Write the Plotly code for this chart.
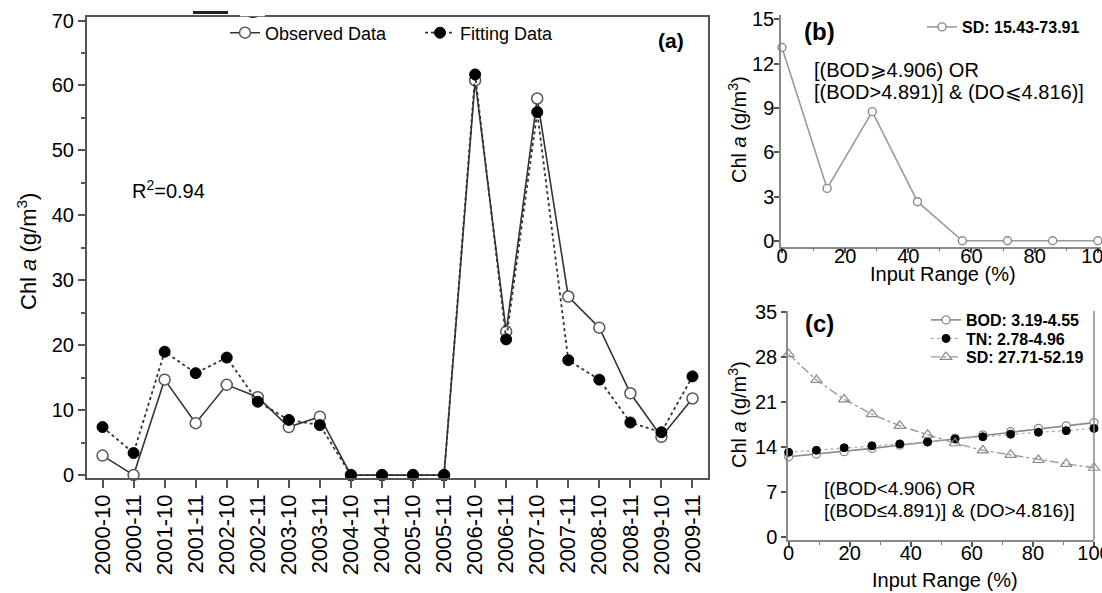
import plotly.graph_objects as go

# ---------------- data ----------------
periods = ["2000-10", "2000-11", "2001-10", "2001-11", "2002-10", "2002-11",
           "2003-10", "2003-11", "2004-10", "2004-11", "2005-10", "2005-11",
           "2006-10", "2006-11", "2007-10", "2007-11", "2008-10", "2008-11",
           "2009-10", "2009-11"]
observed = [3.0, 0.0, 14.7, 8.0, 13.9, 12.0, 7.4, 9.0, 0.0, 0.0, 0.0, 0.0,
            60.8, 22.1, 58.0, 27.5, 22.7, 12.6, 5.9, 11.8]
fitted = [7.4, 3.4, 19.0, 15.7, 18.1, 11.3, 8.5, 7.7, 0.0, 0.0, 0.0, 0.0,
          61.7, 20.9, 55.9, 17.7, 14.7, 8.1, 6.6, 15.2]

range_b = [0, 14.3, 28.6, 42.9, 57.1, 71.4, 85.7, 100]
sd_b = [13.1, 3.55, 8.75, 2.65, 0.0, 0.0, 0.0, 0.0]

range_c = [0, 9.1, 18.2, 27.3, 36.4, 45.5, 54.5, 63.6, 72.7, 81.8, 90.9, 100]
bod_c = [12.5, 12.9, 13.3, 13.8, 14.3, 14.8, 15.4, 15.9, 16.4, 16.9, 17.3, 17.8]
tn_c = [13.2, 13.5, 13.9, 14.2, 14.5, 14.8, 15.25, 15.6, 16.0, 16.3, 16.55, 16.9]
sd_c = [28.4, 24.4, 21.4, 19.1, 17.3, 15.9, 14.6, 13.5, 12.8, 12.0, 11.4, 10.8]

yticks_a = [0, 10, 20, 30, 40, 50, 60, 70]
yticks_b = [0, 3, 6, 9, 12, 15]
yticks_c = [0, 7, 14, 21, 28, 35]
xticks_bc = [0, 20, 40, 60, 80, 100]

# ---------------- layout helpers ----------------
W, H = 1102, 593
FONT = "Liberation Sans, Arial, sans-serif"


def px(x):
    return x / W


def py(y):
    return 1 - y / H


fig = go.Figure()

# panel (a)
fig.add_trace(go.Scatter(
    x=periods, y=observed, name="Observed Data", mode="lines+markers",
    line=dict(color="#333333", width=1.6),
    marker=dict(symbol="circle", size=11, color="white",
                line=dict(color="#555555", width=1.5)),
    xaxis="x", yaxis="y", legend="legend", cliponaxis=False))
fig.add_trace(go.Scatter(
    x=periods, y=fitted, name="Fitting Data", mode="lines+markers",
    line=dict(color="#333333", width=1.8, dash="dot"),
    marker=dict(symbol="circle", size=11, color="black",
                line=dict(color="black", width=1)),
    xaxis="x", yaxis="y", legend="legend", cliponaxis=False))

# panel (b)
fig.add_trace(go.Scatter(
    x=range_b, y=sd_b, name="<b>SD: 15.43-73.91</b>", mode="lines+markers",
    line=dict(color="#9a9a9a", width=1.6),
    marker=dict(symbol="circle", size=8, color="white",
                line=dict(color="#8a8a8a", width=1.4)),
    xaxis="x2", yaxis="y2", legend="legend2", cliponaxis=False))

# panel (c)
fig.add_trace(go.Scatter(
    x=range_c, y=bod_c, name="<b>BOD: 3.19-4.55</b>", mode="lines+markers",
    line=dict(color="#8a8a8a", width=1.6),
    marker=dict(symbol="circle", size=8, color="white",
                line=dict(color="#8a8a8a", width=1.3)),
    xaxis="x3", yaxis="y3", legend="legend3", cliponaxis=False))
fig.add_trace(go.Scatter(
    x=range_c, y=tn_c, name="<b>TN: 2.78-4.96</b>", mode="lines+markers",
    line=dict(color="#b0b0b0", width=1.4, dash="dot"),
    marker=dict(symbol="circle", size=8, color="black",
                line=dict(color="black", width=1)),
    xaxis="x3", yaxis="y3", legend="legend4", cliponaxis=False))
fig.add_trace(go.Scatter(
    x=range_c, y=sd_c, name="<b>SD: 27.71-52.19</b>", mode="lines+markers",
    line=dict(color="#9a9a9a", width=1.4, dash="dashdot"),
    marker=dict(symbol="triangle-up-open", size=10, color="#8a8a8a",
                line=dict(color="#8a8a8a", width=1.2)),
    xaxis="x3", yaxis="y3", legend="legend5", cliponaxis=False))

axis_common = dict(showgrid=False, zeroline=False, ticks="outside",
                   tickcolor="#555555", tickwidth=1.5, automargin=False)


def small_legend(x, y):
    return dict(orientation="v", x=px(x), y=py(y), xanchor="left",
                yanchor="middle", font=dict(size=16, family=FONT),
                bgcolor="rgba(0,0,0,0)", borderwidth=0)


fig.update_layout(
    width=W, height=H, margin=dict(l=0, r=0, t=0, b=0, pad=0),
    autosize=False,
    paper_bgcolor="white", plot_bgcolor="white",
    font=dict(family=FONT, color="black"),
    showlegend=True,
    xaxis=dict(domain=[px(87), px(708)], anchor="y", type="category",
               range=[-0.5, 19.5], tickangle=-90, ticklen=8,
               tickfont=dict(size=22), showline=True, mirror=True,
               linecolor="#555555", linewidth=2, ticklabelstandoff=-2,
               **axis_common),
    yaxis=dict(domain=[py(477.7), py(17.3)], anchor="x",
               range=[-0.4, 70.5], tickvals=yticks_a, ticklen=7,
               tickfont=dict(size=20), showline=True, mirror=True,
               linecolor="#555555", linewidth=2,
               minor=dict(dtick=5, ticks="outside", ticklen=4,
                          tickcolor="#555555", tickwidth=1.5),
               **axis_common),
    xaxis2=dict(domain=[px(781), px(1101)], anchor="y2",
                range=[-0.3, 101], tickvals=xticks_bc, ticklen=5,
                tickfont=dict(size=20), showline=True,
                linecolor="#8a8a8a", linewidth=1.5,
                ticklabelstandoff=-14, ticklabeloverflow="allow",
                minor=dict(dtick=10, ticks="outside", ticklen=3,
                           tickcolor="#777777", tickwidth=1),
                **axis_common),
    yaxis2=dict(domain=[py(246.7), py(15)], anchor="x2",
                range=[-0.4, 15.3], tickvals=yticks_b, ticklen=5,
                tickfont=dict(size=20), showline=True, ticklabelstandoff=-4,
                linecolor="#8a8a8a", linewidth=1.5, **axis_common),
    xaxis3=dict(domain=[px(788), px(1094)], anchor="y3",
                range=[-0.2, 100], tickvals=xticks_bc, ticklen=5,
                tickfont=dict(size=20), showline=True,
                linecolor="#8a8a8a", linewidth=1.5,
                ticklabelstandoff=-11, ticklabeloverflow="allow",
                minor=dict(dtick=10, ticks="outside", ticklen=3,
                           tickcolor="#777777", tickwidth=1),
                **axis_common),
    yaxis3=dict(domain=[py(540), py(311)], anchor="x3",
                range=[-0.4, 35.1], tickvals=yticks_c, ticklen=5,
                tickfont=dict(size=20), showline=True,
                linecolor="#8a8a8a", linewidth=1.5, **axis_common),
    legend=dict(orientation="h", x=px(225), y=py(33), xanchor="left",
                yanchor="middle", font=dict(size=18, family=FONT),
                bgcolor="rgba(0,0,0,0)", borderwidth=0,
                entrywidth=150, entrywidthmode="pixels"),
    legend2=small_legend(922, 27),
    legend3=small_legend(926, 320),
    legend4=small_legend(926, 338.5),
    legend5=small_legend(926, 357),
)

# right border of panel (c)
fig.add_shape(type="line", xref="x3 domain", yref="y3 domain",
              x0=1, x1=1, y0=0, y1=1, line=dict(color="#8a8a8a", width=1.5))

# cropped remnants at the very top of the figure
fig.add_shape(type="rect", xref="paper", yref="paper",
              x0=px(193), x1=px(228), y0=py(14), y1=py(11),
              line=dict(width=0), fillcolor="#222222")
fig.add_shape(type="circle", xref="paper", yref="paper",
              x0=px(246), x1=px(260), y0=py(18), y1=py(9),
              line=dict(width=0), fillcolor="#222222")
fig.add_shape(type="rect", xref="paper", yref="paper",
              x0=px(240), x1=px(265), y0=py(16.3), y1=py(0),
              line=dict(width=0), fillcolor="white", layer="above")


def ann(text, x, y, size, xanchor="center", yanchor="middle", angle=0):
    fig.add_annotation(text=text, x=px(x), y=py(y), xref="paper",
                       yref="paper", showarrow=False, xanchor=xanchor,
                       yanchor=yanchor, textangle=angle,
                       font=dict(size=size, family=FONT, color="black"))


ytitle = "Chl <i>a</i> (g/m<sup>3</sup>)"
ann(ytitle, 27, 252, 22, angle=-90)
ann(ytitle, 737, 130, 20, angle=-90)
ann(ytitle, 737, 415, 20, angle=-90)
ann("Input Range (%)", 943, 274, 20)
ann("Input Range (%)", 945, 580, 20)
ann("<b>(a)</b>", 671, 40, 21)
ann("<b>(b)</b>", 819, 32, 24)
ann("<b>(c)</b>", 819, 323, 24)
ann("R<sup>2</sup>=0.94", 130, 190, 20, xanchor="left")
ann("[(BOD⩾4.906) OR", 812, 70, 20, xanchor="left")
ann("[(BOD>4.891)] &amp; (DO⩽4.816)]", 812, 92, 20, xanchor="left")
ann("[(BOD&lt;4.906) OR", 822, 488, 19, xanchor="left")
ann("[(BOD≤4.891)] &amp; (DO>4.816)]", 822, 510, 19, xanchor="left")

fig.write_html(
    "out.html",
    config={"displayModeBar": False},
    post_script="document.body.style.margin='0';"
                "document.body.style.overflow='hidden';")
